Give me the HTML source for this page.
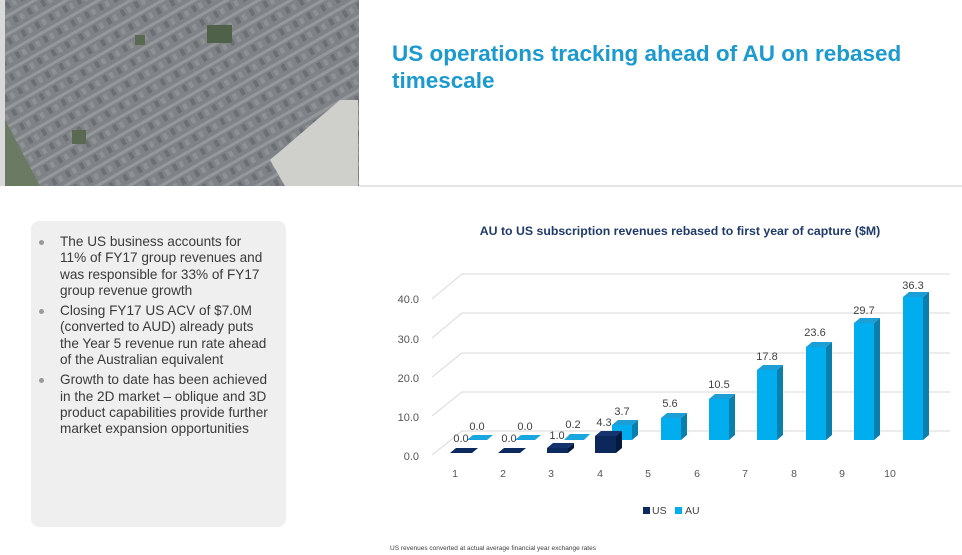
<!DOCTYPE html>
<html><head><style>
body{margin:0;width:962px;height:555px;position:relative;background:#fff;font-family:"Liberation Sans",Arial,sans-serif;overflow:hidden}
.title{position:absolute;left:392px;top:40px;font-size:22.5px;font-weight:bold;color:#1b9ad0;line-height:27px}
.panel{position:absolute;left:31px;top:221px;width:255px;height:306px;background:#efefef;border-radius:8px}
.panel ul{margin:0;padding:13px 0 0 29px;list-style:none;font-size:13.6px;color:#3a3a3a;line-height:16.3px;white-space:nowrap}
.panel li{position:relative;margin:0 0 4px 0}
.panel li:before{content:"";position:absolute;left:-21px;top:6px;width:5px;height:5px;border-radius:50%;background:#9a9a9a}
</style></head><body>
<svg width="962" height="555" style="position:absolute;left:0;top:0">
<defs>
<pattern id="lots" width="16" height="16" patternUnits="userSpaceOnUse" patternTransform="rotate(-30)">
<rect width="16" height="16" fill="#7f8286"/>
<rect width="16" height="3" fill="#95989b"/>
<rect x="2" y="5" width="4" height="7" fill="#6c6f74"/>
<rect x="9" y="6" width="4" height="6" fill="#8f9295"/>
</pattern>
</defs>
<rect x="0" y="0" width="5" height="186" fill="#d9d9d9"/>
<rect x="5" y="0" width="354" height="186" fill="url(#lots)"/>
<polygon points="5,120 40,186 5,186" fill="#6b7a62"/>
<polygon points="270,160 340,100 358,100 358,186 285,186" fill="#cfcfcc"/>
<rect x="207" y="25" width="25" height="18" fill="#4f6148"/>
<rect x="135" y="35" width="10" height="10" fill="#5a6a52"/>
<rect x="72" y="130" width="14" height="14" fill="#5a6a52"/>
<line x1="359" y1="186" x2="962" y2="186" stroke="#c8c8c8" stroke-width="1"/>
<text x="680" y="235" text-anchor="middle" font-size="12.3" font-weight="bold" fill="#1f3a6b">AU to US subscription revenues rebased to first year of capture ($M)</text>
<g stroke="#d9d9d9" stroke-width="1" fill="none">
<polyline points="432,455 462,431 950,431"/>
<polyline points="432,416 462,392 950,392"/>
<polyline points="432,377 462,353 950,353"/>
<polyline points="432,338 462,313 950,313"/>
<polyline points="432,299 462,274 950,274"/>
</g>
<g font-size="11" fill="#555" text-anchor="end">
<text x="419" y="460">0.0</text><text x="419" y="421">10.0</text><text x="419" y="382">20.0</text><text x="419" y="343">30.0</text><text x="419" y="303">40.0</text>
</g>
<g font-size="10.5" fill="#555" text-anchor="middle">
<text x="455" y="477">1</text><text x="503" y="477">2</text><text x="551" y="477">3</text><text x="600" y="477">4</text><text x="648" y="477">5</text><text x="697" y="477">6</text><text x="745" y="477">7</text><text x="794" y="477">8</text><text x="842" y="477">9</text><text x="890" y="477">10</text>
</g>
<g>
<polygon points="467,440 487,440 493,435 473,435" fill="#1aa6de"/>
<polygon points="515,440 535,440 541,435 521,435" fill="#1aa6de"/>
<polygon points="564,440 584,440 590,434 570,434" fill="#1aa6de"/>
<rect x="612" y="425" width="20" height="15" fill="#00aeef"/><polygon points="612,425 618,420 638,420 632,425" fill="#1b9fd6"/><polygon points="632,425 638,420 638,435 632,440" fill="#0a7fae"/>
<rect x="661" y="418" width="20" height="22" fill="#00aeef"/><polygon points="661,418 667,413 687,413 681,418" fill="#1b9fd6"/><polygon points="681,418 687,413 687,435 681,440" fill="#0a7fae"/>
<rect x="709" y="399" width="20" height="41" fill="#00aeef"/><polygon points="709,399 715,394 735,394 729,399" fill="#1b9fd6"/><polygon points="729,399 735,394 735,435 729,440" fill="#0a7fae"/>
<rect x="757" y="370" width="20" height="70" fill="#00aeef"/><polygon points="757,370 763,365 783,365 777,370" fill="#1b9fd6"/><polygon points="777,370 783,365 783,435 777,440" fill="#0a7fae"/>
<rect x="806" y="347" width="20" height="93" fill="#00aeef"/><polygon points="806,347 812,342 832,342 826,347" fill="#1b9fd6"/><polygon points="826,347 832,342 832,435 826,440" fill="#0a7fae"/>
<rect x="854" y="323" width="20" height="117" fill="#00aeef"/><polygon points="854,323 860,318 880,318 874,323" fill="#1b9fd6"/><polygon points="874,323 880,318 880,435 874,440" fill="#0a7fae"/>
<rect x="903" y="297" width="20" height="143" fill="#00aeef"/><polygon points="903,297 909,292 929,292 923,297" fill="#1b9fd6"/><polygon points="923,297 929,292 929,435 923,440" fill="#0a7fae"/>
</g>
<polygon points="450,453 472,453 478,448 456,448" fill="#0d2a5e"/>
<polygon points="498,453 520,453 526,448 504,448" fill="#0d2a5e"/>
<rect x="547" y="448" width="21" height="5" fill="#0d2a5e"/><polygon points="547,448 553,443 574,443 568,448" fill="#15346e"/><polygon points="568,448 574,443 574,448 568,453" fill="#061a40"/>
<rect x="595" y="436" width="21" height="17" fill="#0c2759"/><polygon points="595,436 601,431 622,431 616,436" fill="#15346e"/><polygon points="616,436 622,431 622,448 616,453" fill="#061a40"/>
<g font-size="11" fill="#404040" text-anchor="middle">
<text x="461" y="442">0.0</text><text x="509" y="442">0.0</text><text x="557" y="439">1.0</text><text x="604" y="426">4.3</text>
<text x="477" y="430">0.0</text><text x="525" y="430">0.0</text><text x="573" y="428">0.2</text><text x="622" y="415">3.7</text>
<text x="670" y="407">5.6</text><text x="719" y="388">10.5</text><text x="767" y="360">17.8</text><text x="815" y="336">23.6</text><text x="864" y="314">29.7</text><text x="913" y="289">36.3</text>
</g>
<rect x="643" y="507" width="7" height="7" fill="#0d2a5e"/><text x="652" y="514" font-size="10.5" fill="#404040">US</text>
<rect x="675" y="507" width="7" height="7" fill="#00aeef"/><text x="685" y="514" font-size="10.5" fill="#404040">AU</text>
<text x="390" y="550" font-size="6.5" fill="#404040">US revenues converted at actual average financial year exchange rates</text>
</svg>
<div class="title">US operations tracking ahead of AU on rebased<br>timescale</div>
<div class="panel"><ul>
<li>The US business accounts for<br>11% of FY17 group revenues and<br>was responsible for 33% of FY17<br>group revenue growth</li>
<li>Closing FY17 US ACV of $7.0M<br>(converted to AUD) already puts<br>the Year 5 revenue run rate ahead<br>of the Australian equivalent</li>
<li>Growth to date has been achieved<br>in the 2D market – oblique and 3D<br>product capabilities provide further<br>market expansion opportunities</li>
</ul></div>
</body></html>
